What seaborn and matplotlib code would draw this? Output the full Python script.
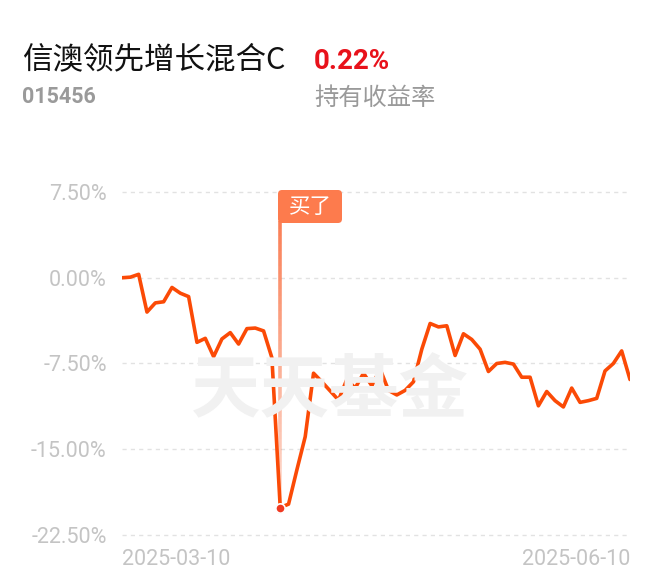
import numpy as np
import pandas as pd
import seaborn as sns
import matplotlib.pyplot as plt
from matplotlib.collections import LineCollection
from matplotlib.patches import FancyBboxPatch
import matplotlib.transforms as mtransforms

# fund info
fund_name = "信澳领先增长混合C"
fund_code = "015456"
hold_return = "0.22%"
hold_label = "持有收益率"

# cumulative return (%) per trading day, 2025-03-10 .. 2025-06-10
returns = [0.0, 0.05, 0.3, -3.0, -2.2, -2.1, -0.85, -1.35, -1.65, -5.65,
           -5.3, -6.9, -5.35, -4.8, -5.8, -4.45, -4.4, -4.65, -7.0, -20.1,
           -19.8, -16.8, -13.9, -8.35, -9.1, -9.9, -10.7, -8.9, -9.65, -8.35,
           -9.45, -8.0, -9.85, -10.25, -9.85, -9.1, -6.25, -4.0, -4.3, -4.2,
           -6.8, -4.9, -5.4, -6.25, -8.2, -7.5, -7.4, -7.55, -8.7, -8.7,
           -11.2, -9.95, -10.75, -11.3, -9.65, -10.9, -10.75, -10.55, -8.15, -7.5,
           -6.4, -8.9]
date_labels = ["2025-03-10", "2025-06-10"]
y_ticks = [7.5, 0.0, -7.5, -15.0, -22.5]
y_tick_labels = ["7.50%", "0.00%", "-7.50%", "-15.00%", "-22.50%"]
buy_index = 19
buy_text = "买了"
watermark = "天天基金"

df = pd.DataFrame({"day": range(len(returns)), "ret": returns})

sns.set_style("white")
plt.rcParams['font.family'] = ['Roboto', 'Noto Sans CJK SC', 'DejaVu Sans']

W, H = 660, 585
fig = plt.figure(figsize=(6.6, 5.85), dpi=100)
ax = fig.add_axes([122 / W, 1 - 535 / H, 508 / W, 343 / H])

# watermark
fig.text(330 / W, 1 - 392 / H, watermark, fontsize=50, fontweight='bold',
         color='#f1f1f1', ha='center', va='center',
         family=['Noto Sans CJK SC'], zorder=0)

sns.lineplot(data=df, x="day", y="ret", ax=ax, color="#fb4a06",
             linewidth=2.6, zorder=3)

ax.set_xlim(0, len(returns) - 1)
ax.set_ylim(-22.5, 7.5)
ax.set_yticks(y_ticks)
ax.set_yticklabels(y_tick_labels)
ax.set_xticks([])
ax.set_xlabel("")
ax.set_ylabel("")
ax.tick_params(axis='y', length=0, pad=11, labelsize=15.5, labelcolor='#c4c4c4')
for t in y_ticks:
    ax.axhline(t, color='#e2e2e2', lw=1, dashes=(3, 3), zorder=1, clip_on=False)
for s in ax.spines.values():
    s.set_visible(False)
ax.patch.set_alpha(0)

# date labels
ax.text(0, -0.07, date_labels[0], transform=ax.get_xaxis_transform(),
        ha='left', va='center', fontsize=15.5, color='#c4c4c4')
ax.text(len(returns) - 1, -0.07, date_labels[1], transform=ax.get_xaxis_transform(),
        ha='right', va='center', fontsize=15.5, color='#c4c4c4')

# buy marker: gradient vertical line
trans = ax.get_xaxis_transform()
ys = np.linspace(0.915, 0.06, 40)
segs = [[(buy_index, ys[i]), (buy_index, ys[i + 1])] for i in range(len(ys) - 1)]
cols = [(0.98, 0.50, 0.34, a) for a in np.linspace(1.0, 0.25, len(segs))]
lc = LineCollection(segs, colors=cols, linewidths=2.6, transform=trans, zorder=2)
ax.add_collection(lc)

ax.scatter([buy_index], [returns[buy_index]], s=45, color='#f03a22',
           edgecolor='white', linewidth=1.2, zorder=5)

# buy label box (pixel coords)
box = FancyBboxPatch((278, H - 223), 64, 33,
                     boxstyle="round,pad=0,rounding_size=4",
                     fc='#fd7b4d', ec='none',
                     transform=mtransforms.IdentityTransform(), zorder=6)
fig.patches.append(box)
fig.text(310 / W, 1 - 207 / H, buy_text, color='white', fontsize=15.5,
         ha='center', va='center', family=['Noto Sans CJK SC'], zorder=7)

# header
fig.text(22 / W, 1 - 68 / H, fund_name, fontsize=22, color='#111111',
         ha='left', va='baseline', family=['Noto Sans CJK SC', 'Roboto'])
fig.text(314 / W, 1 - 69 / H, hold_return, fontsize=20, color='#e8121b',
         fontweight='bold', ha='left', va='baseline')
fig.text(22 / W, 1 - 103 / H, fund_code, fontsize=15.5, color='#9a9a9a',
         fontweight='bold', ha='left', va='baseline')
fig.text(314 / W, 1 - 105 / H, hold_label, fontsize=17.5, color='#9a9a9a',
         ha='left', va='baseline', family=['Noto Sans CJK SC'])

plt.savefig('out.png', dpi=100)
